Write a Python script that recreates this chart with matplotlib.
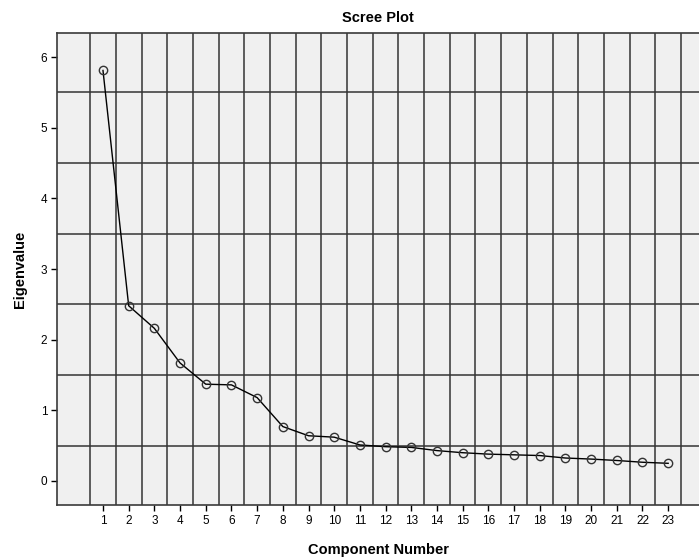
import matplotlib.pyplot as plt

plt.rcParams['font.family'] = ['Liberation Sans', 'DejaVu Sans']

components = list(range(1, 24))
eigenvalues = [5.81, 2.48, 2.16, 1.67, 1.37, 1.36, 1.18, 0.77, 0.64, 0.62,
               0.51, 0.485, 0.475, 0.43, 0.40, 0.38, 0.37, 0.36, 0.325,
               0.31, 0.29, 0.265, 0.25]
y_ticks = [0, 1, 2, 3, 4, 5, 6]

fig = plt.figure(figsize=(6.99, 5.59), dpi=100)
ax = fig.add_axes([57 / 699, 54 / 559, 642 / 699, 472 / 559])
ax.set_facecolor('#f0f0f0')

# grid lines sit between the integer ticks
for x in range(1, 24):
    ax.axvline(x - 0.5, color='#333333', lw=1.1, zorder=1)
ax.axvline(23.5, color='#333333', lw=1.1, zorder=1)
for y in y_ticks[:-1]:
    ax.axhline(y + 0.5, color='#333333', lw=1.1, zorder=1)

ax.plot(components, eigenvalues, color='black', lw=1, marker='o',
        markersize=6, markerfacecolor='none', markeredgecolor='#333333',
        markeredgewidth=1, zorder=3)

ax.set_xlim(-0.79, 24.2)
ax.set_ylim(-0.34, 6.34)
ax.set_xticks(components)
ax.set_yticks(y_ticks)
ax.tick_params(axis='both', labelsize=8.5, length=4, width=1, color='black',
               direction='out', pad=3)

for side in ['left', 'bottom', 'top']:
    ax.spines[side].set_color('#3a3a3a')
    ax.spines[side].set_linewidth(1.2)
ax.spines['right'].set_visible(False)

ax.set_title('Scree Plot', fontsize=10.5, fontweight='bold', pad=8)
ax.set_xlabel('Component Number', fontsize=10.5, fontweight='bold', labelpad=12)
ax.set_ylabel('Eigenvalue', fontsize=10.5, fontweight='bold', labelpad=10)

fig.savefig('out.png', dpi=100)
